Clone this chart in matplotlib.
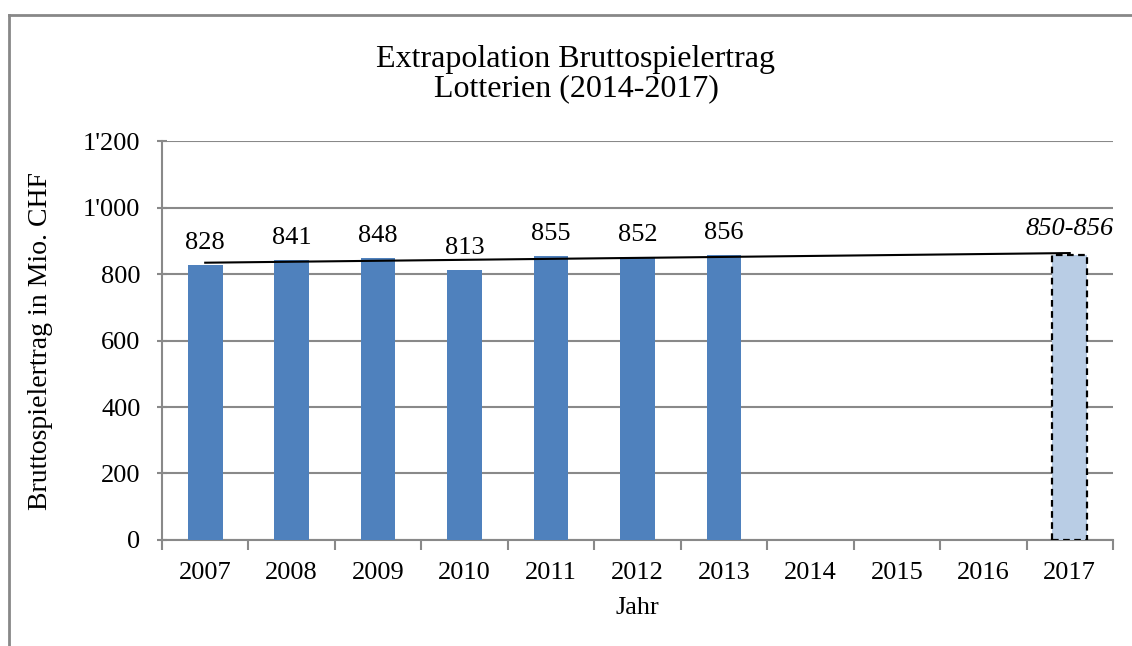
import matplotlib.pyplot as plt
from matplotlib.lines import Line2D

years = ['2007', '2008', '2009', '2010', '2011', '2012', '2013', '2014', '2015', '2016', '2017']
actual = [828, 841, 848, 813, 855, 852, 856]
forecast_value = 856
forecast_label = '850-856'
trend_start, trend_end = 834, 863

plt.rcParams['font.family'] = ['Liberation Serif', 'DejaVu Serif']

fig = plt.figure(figsize=(11.32, 6.46), dpi=100)
ax = fig.add_axes([0.1431, 0.1641, 0.8401, 0.6176])

grid_col = '#898989'
x = list(range(len(years)))
n = len(actual)

bars = ax.bar(x[:n], actual, width=0.4, color='#4F81BD', zorder=3)
ax.bar(x[-1], forecast_value, width=0.4, color='#B9CDE5', edgecolor='black',
       linestyle=(0, (3, 2)), linewidth=1.6, zorder=3)

for xi, v in zip(x[:n], actual):
    ax.annotate(str(v), (xi, v), xytext=(0, 11.5), textcoords='offset points',
                ha='center', va='baseline', fontsize=19)
ax.annotate(forecast_label, (x[-1], forecast_value), xytext=(0, 14.5),
            textcoords='offset points', ha='center', va='baseline',
            fontsize=19, style='italic')

# linear trend line
ax.plot([x[0], x[-1]], [trend_start, trend_end], color='black', lw=1.5, zorder=4)

ax.set_xlim(-0.5, len(years) - 0.5)
ax.set_ylim(0, 1200)
ax.set_yticks(range(0, 1201, 200))
ax.set_yticklabels(['0', '200', '400', '600', '800', "1'000", "1'200"], fontsize=19)
ax.yaxis.grid(True, color=grid_col, lw=1.5, zorder=0)
ax.set_axisbelow(True)

ax.set_xticks([i - 0.5 for i in range(len(years) + 1)])
ax.set_xticklabels([])
ax.set_xticks(x, minor=True)
ax.set_xticklabels(years, minor=True, fontsize=19)
ax.tick_params(axis='x', which='minor', length=0, pad=16)
ax.tick_params(axis='x', which='major', length=7, width=1.5, color=grid_col, direction='out')
ax.tick_params(axis='y', length=7, width=1.5, color=grid_col, direction='inout', pad=12)

for s in ['top', 'right']:
    ax.spines[s].set_visible(False)
for s in ['left', 'bottom']:
    ax.spines[s].set_color(grid_col)
    ax.spines[s].set_linewidth(1.5)

ax.set_ylabel('Bruttospielertrag in Mio. CHF', fontsize=20)
ax.yaxis.set_label_coords((53 - 162) / 951, 0.5)
fig.text(637 / 1132, 1 - 608 / 646, 'Jahr', ha='center', va='center', fontsize=19)
fig.text(576 / 1132, 1 - 74 / 646, 'Extrapolation Bruttospielertrag\nLotterien (2014-2017)',
         ha='center', va='center', fontsize=23, linespacing=1.0)

# outer frame (only left and top edges visible in the crop)
fig.add_artist(Line2D([9 / 1132, 9 / 1132], [0, 1 - 15 / 646], transform=fig.transFigure,
                      color='#888888', lw=2))
fig.add_artist(Line2D([9 / 1132, 1], [1 - 15 / 646, 1 - 15 / 646], transform=fig.transFigure,
                      color='#888888', lw=2))

fig.savefig('out.png', dpi=100)
